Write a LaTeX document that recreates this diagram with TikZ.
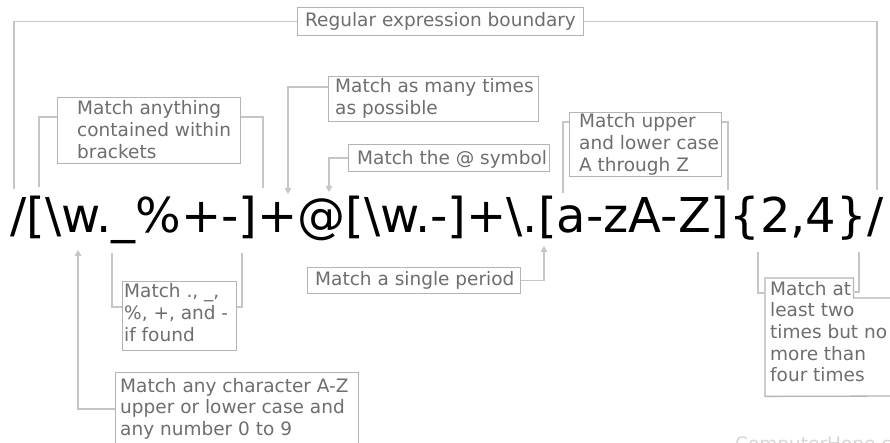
\documentclass[tikz,border=0pt]{standalone}
\usepackage{fontspec}
\setmainfont{DejaVu Sans}
\usetikzlibrary{arrows.meta}
\definecolor{txt}{HTML}{6E6E6E}
\definecolor{brd}{HTML}{B4B4B4}
\definecolor{lin}{HTML}{C6C6C6}
\definecolor{wm}{HTML}{D6D6D6}
\newcommand{\lines}[1]{\begin{tabular}[t]{@{}l@{}}#1\end{tabular}}
\begin{document}
\begin{tikzpicture}[x=1pt,y=-1pt,
  box/.style={draw=brd, line width=1.3pt, inner sep=0pt, anchor=north west},
  lbl/.style={text=txt, font=\fontsize{18.5}{21.7}\selectfont, inner sep=0pt, anchor=base west},
  conn/.style={draw=lin, line width=1.5pt},
  arr/.style={conn, -{Triangle[length=6pt,width=6.5pt]}},
  rxs/.style={inner sep=0pt, anchor=base west, font=\fontsize{48}{52}\selectfont}]
\useasboundingbox (0,0) rectangle (890,443);
\fill[white] (0,0) rectangle (890,443);

% main expression
\node[rxs] (rx) at (10,233) {/[\textbackslash w.\_\%+-]+@[\textbackslash w.-]+\textbackslash.[a-zA-Z]\{2,4\}/};

% boxes
\node[box, minimum width=286pt, minimum height=28pt] (b1) at (297,7) {};
\node[box, minimum width=183pt, minimum height=66pt] (b2) at (57,97) {};
\node[box, minimum width=210pt, minimum height=45pt] (b3) at (328,76) {};
\node[box, minimum width=201pt, minimum height=27pt] (b4) at (348,144) {};
\node[box, minimum width=152pt, minimum height=64pt] (b5) at (569,112) {};
\node[box, minimum width=114pt, minimum height=69pt] (b6) at (122,281) {};
\node[box, minimum width=243pt, minimum height=90pt] (b7) at (115,372) {};
\node[box, minimum width=213pt, minimum height=26pt] (b8) at (307,267) {};
\node[inner sep=0pt, anchor=north west, minimum width=88pt, minimum height=118pt] (b9) at (765,278) {};
\draw[draw=brd, line width=1.3pt] (900,298) -- ([yshift=-20pt]b9.north east) -- (b9.north east) -- (b9.north west) -- (b9.south west) -- (900,396);

% texts
\node[lbl] (t1) at (305,27) {Regular expression boundary};
\node[lbl] (t2) at (77,115) {\lines{Match anything\\contained within\\brackets}};
\node[lbl] (t3) at (335,93) {\lines{Match as many times\\as possible}};
\node[lbl] (t4) at (357,165) {Match the @ symbol};
\node[lbl] (t5) at (579,128) {\lines{Match upper\\and lower case\\A through Z}};
\node[lbl] (t6) at (124,298) {\lines{Match ., \_,\\\%, +, and -\\if found}};
\node[lbl] (t7) at (120,392) {\lines{Match any character A-Z\\upper or lower case and\\any number 0 to 9}};
\node[lbl] (t8) at (315,285) {Match a single period};
\node[lbl] (t9) at (770,295) {\lines{Match at\\least two\\times but no\\more than\\four times}};
\node[lbl, text=wm] (wmk) at (735,450) {ComputerHope.com};

% connector ends
\coordinate (e1l) at (14,189);
\coordinate (e1r) at (877,190);
\coordinate (e2l) at (39,187);
\coordinate (e2r) at (263,188);
\coordinate (e3) at (288,194);
\coordinate (e4) at (329,192);
\coordinate (e5l) at (563,193);
\coordinate (e5r) at (728,190);
\coordinate (e6l) at (112,253);
\coordinate (e6r) at (242,253);
\coordinate (e7) at (78,250);
\coordinate (e8) at (544,246);
\coordinate (e9l) at (758,252);
\coordinate (e9r) at (859,252);

% connectors
\draw[conn] (b1.west) -| (e1l);
\draw[conn] (b1.east) -| (e1r);
\draw[conn] ([yshift=-20pt]b2.north west) -| (e2l);
\draw[conn] ([yshift=-20pt]b2.north east) -| (e2r);
\draw[arr] ([yshift=-11pt]b3.north west) -| (e3);
\draw[arr] (b4.west) -| (e4);
\draw[conn] ([yshift=-10pt]b5.north west) -| (e5l);
\draw[conn] ([yshift=-10pt]b5.north east) -| (e5r);
\draw[conn] ([yshift=-26pt]b6.north west) -| (e6l);
\draw[conn] ([yshift=-26pt]b6.north east) -| (e6r);
\draw[arr] ([yshift=-37pt]b7.north west) -| (e7);
\draw[arr] (b8.east) -| (e8);
\draw[conn] ([yshift=-15pt]b9.north west) -| (e9l);
\draw[conn] ([yshift=-14pt]b9.north east) -| (e9r);
\end{tikzpicture}
\end{document}
